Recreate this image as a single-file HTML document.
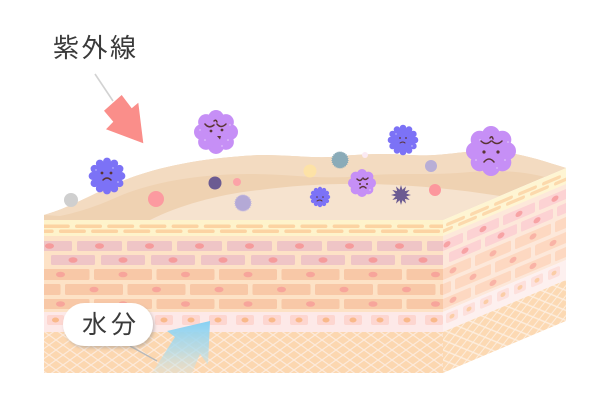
<!DOCTYPE html>
<html><head><meta charset="utf-8"><style>
html,body{margin:0;padding:0;background:#fff;width:600px;height:400px;overflow:hidden}
svg{display:block}
text{font-family:"Liberation Sans","Noto Sans CJK JP",sans-serif}
</style></head><body>
<svg width="600" height="400" viewBox="0 0 600 400" xmlns="http://www.w3.org/2000/svg">
<defs>
<pattern id="lat" width="14" height="10" patternUnits="userSpaceOnUse">
<rect width="14" height="10" fill="#fcd7b0"/>
<path d="M0,0L14,10M14,0L0,10" stroke="#fdeadb" stroke-width="1.2"/>
</pattern>
<pattern id="lat2" width="12" height="10" patternUnits="userSpaceOnUse">
<rect width="12" height="10" fill="#fcd9b3"/>
<path d="M0,0L12,10M12,0L0,10" stroke="#fdeedf" stroke-width="1.2"/>
</pattern>
<clipPath id="cf"><rect x="44" y="200" width="399" height="173"/></clipPath>
<clipPath id="cr"><rect x="0" y="220" width="123" height="153"/></clipPath>
<g id="blob">
<circle r=".72"/><circle cx=".64" cy="0" r=".36"/><circle cx=".4525" cy=".4525" r=".36"/><circle cx="0" cy=".64" r=".36"/><circle cx="-.4525" cy=".4525" r=".36"/><circle cx="-.64" cy="0" r=".36"/><circle cx="-.4525" cy="-.4525" r=".36"/><circle cx="0" cy="-.64" r=".36"/><circle cx=".4525" cy="-.4525" r=".36"/>
</g>
<g id="spk">
<circle r=".75"/><circle cx=".8" cy="0" r=".22"/><circle cx=".693" cy=".4" r=".22"/><circle cx=".4" cy=".693" r=".22"/><circle cx="0" cy=".8" r=".22"/><circle cx="-.4" cy=".693" r=".22"/><circle cx="-.693" cy=".4" r=".22"/><circle cx="-.8" cy="0" r=".22"/><circle cx="-.693" cy="-.4" r=".22"/><circle cx="-.4" cy="-.693" r=".22"/><circle cx="0" cy="-.8" r=".22"/><circle cx=".4" cy="-.693" r=".22"/><circle cx=".693" cy="-.4" r=".22"/>
</g>
<linearGradient id="bl" x1="0" y1="321" x2="0" y2="373" gradientUnits="userSpaceOnUse">
<stop offset="0" stop-color="#86d0f3"/><stop offset=".55" stop-color="#a9dbee" stop-opacity=".75"/><stop offset="1" stop-color="#d0e6e6" stop-opacity=".35"/>
</linearGradient>
<filter id="sh" x="-20%" y="-20%" width="140%" height="160%"><feDropShadow dx="1.5" dy="2" stdDeviation="1.5" flood-color="#888" flood-opacity=".45"/></filter>
</defs>

<!-- top surface -->
<path d="M44,220 L44,215 C70,208 100,190 130,178 C160,167 200,158 260,155 C290,155 310,158 330,157 C360,154 385,153 410,155 C440,157 460,151 485,151 C515,151 540,160 566,168 L443,220 Z" fill="#efd2b2"/>
<path d="M44,215 C70,208 100,190 130,178 C160,167 200,158 260,155 C290,155 310,158 330,157 C360,154 385,153 410,155 C440,157 460,151 485,151 C515,151 540,160 566,168 L545,177 C520,171 500,170 470,172 C430,176 400,172 360,176 C320,180 290,174 250,174 C200,174 150,182 115,198 C95,207 75,213 60,216 Z" fill="#f3dbc1"/>
<path d="M150,220 C180,205 220,194 260,190 C320,182 400,180 500,196 L443,220 Z" fill="#f6e3cf"/>

<!-- front face -->
<g clip-path="url(#cf)">
<rect x="44" y="220" width="399" height="17" fill="#fef3cb"/>
<rect x="44" y="236" width="399" height="76" fill="#fde2c6"/>
<g fill="#fcd3a2">
<rect x="42.8" y="224.5" width="27" height="3.5" rx="1.75"/><rect x="75" y="224.5" width="27" height="3.5" rx="1.75"/><rect x="107.2" y="224.5" width="27" height="3.5" rx="1.75"/><rect x="139.4" y="224.5" width="27" height="3.5" rx="1.75"/><rect x="171.6" y="224.5" width="27" height="3.5" rx="1.75"/><rect x="203.8" y="224.5" width="27" height="3.5" rx="1.75"/><rect x="236" y="224.5" width="27" height="3.5" rx="1.75"/><rect x="268.2" y="224.5" width="27" height="3.5" rx="1.75"/><rect x="300.4" y="224.5" width="27" height="3.5" rx="1.75"/><rect x="332.6" y="224.5" width="27" height="3.5" rx="1.75"/><rect x="364.8" y="224.5" width="27" height="3.5" rx="1.75"/><rect x="397" y="224.5" width="27" height="3.5" rx="1.75"/><rect x="429.2" y="224.5" width="27" height="3.5" rx="1.75"/>
<rect x="26.7" y="229.5" width="27" height="3.5" rx="1.75"/><rect x="58.9" y="229.5" width="27" height="3.5" rx="1.75"/><rect x="91.1" y="229.5" width="27" height="3.5" rx="1.75"/><rect x="123.3" y="229.5" width="27" height="3.5" rx="1.75"/><rect x="155.5" y="229.5" width="27" height="3.5" rx="1.75"/><rect x="187.7" y="229.5" width="27" height="3.5" rx="1.75"/><rect x="219.9" y="229.5" width="27" height="3.5" rx="1.75"/><rect x="252.1" y="229.5" width="27" height="3.5" rx="1.75"/><rect x="284.3" y="229.5" width="27" height="3.5" rx="1.75"/><rect x="316.5" y="229.5" width="27" height="3.5" rx="1.75"/><rect x="348.7" y="229.5" width="27" height="3.5" rx="1.75"/><rect x="380.9" y="229.5" width="27" height="3.5" rx="1.75"/><rect x="413.1" y="229.5" width="27" height="3.5" rx="1.75"/>
</g>
<!-- pink rows -->
<g fill="#efc5c6">
<rect x="27" y="241" width="45" height="10" rx="1.5"/><rect x="77" y="241" width="45" height="10" rx="1.5"/><rect x="127" y="241" width="45" height="10" rx="1.5"/><rect x="177" y="241" width="45" height="10" rx="1.5"/><rect x="227" y="241" width="45" height="10" rx="1.5"/><rect x="277" y="241" width="45" height="10" rx="1.5"/><rect x="327" y="241" width="45" height="10" rx="1.5"/><rect x="377" y="241" width="45" height="10" rx="1.5"/><rect x="427" y="241" width="45" height="10" rx="1.5"/>
<rect x="51" y="255" width="44" height="10" rx="1.5"/><rect x="101" y="255" width="44" height="10" rx="1.5"/><rect x="151" y="255" width="44" height="10" rx="1.5"/><rect x="201" y="255" width="44" height="10" rx="1.5"/><rect x="251" y="255" width="44" height="10" rx="1.5"/><rect x="301" y="255" width="44" height="10" rx="1.5"/><rect x="351" y="255" width="44" height="10" rx="1.5"/><rect x="401" y="255" width="44" height="10" rx="1.5"/>
</g>
<g fill="#f59b9b">
<ellipse cx="49.5" cy="246" rx="4.5" ry="2.8"/><ellipse cx="99.5" cy="246" rx="4.5" ry="2.8"/><ellipse cx="149.5" cy="246" rx="4.5" ry="2.8"/><ellipse cx="199.5" cy="246" rx="4.5" ry="2.8"/><ellipse cx="249.5" cy="246" rx="4.5" ry="2.8"/><ellipse cx="299.5" cy="246" rx="4.5" ry="2.8"/><ellipse cx="349.5" cy="246" rx="4.5" ry="2.8"/><ellipse cx="399.5" cy="246" rx="4.5" ry="2.8"/>
<ellipse cx="73" cy="260" rx="4.5" ry="2.8"/><ellipse cx="123" cy="260" rx="4.5" ry="2.8"/><ellipse cx="173" cy="260" rx="4.5" ry="2.8"/><ellipse cx="223" cy="260" rx="4.5" ry="2.8"/><ellipse cx="273" cy="260" rx="4.5" ry="2.8"/><ellipse cx="323" cy="260" rx="4.5" ry="2.8"/><ellipse cx="373" cy="260" rx="4.5" ry="2.8"/><ellipse cx="423" cy="260" rx="4.5" ry="2.8"/>
</g>
<!-- salmon rows -->
<g fill="#f8c8a7">
<rect x="31.5" y="269" width="58" height="11" rx="1.5"/><rect x="94" y="269" width="58" height="11" rx="1.5"/><rect x="156.5" y="269" width="58" height="11" rx="1.5"/><rect x="219" y="269" width="58" height="11" rx="1.5"/><rect x="281.5" y="269" width="58" height="11" rx="1.5"/><rect x="344" y="269" width="58" height="11" rx="1.5"/><rect x="406.5" y="269" width="58" height="11" rx="1.5"/>
<rect x="2.5" y="284" width="58" height="11" rx="1.5"/><rect x="65" y="284" width="58" height="11" rx="1.5"/><rect x="127.5" y="284" width="58" height="11" rx="1.5"/><rect x="190" y="284" width="58" height="11" rx="1.5"/><rect x="252.5" y="284" width="58" height="11" rx="1.5"/><rect x="315" y="284" width="58" height="11" rx="1.5"/><rect x="377.5" y="284" width="58" height="11" rx="1.5"/><rect x="440" y="284" width="58" height="11" rx="1.5"/>
<rect x="31.5" y="299" width="58" height="10" rx="1.5"/><rect x="94" y="299" width="58" height="10" rx="1.5"/><rect x="156.5" y="299" width="58" height="10" rx="1.5"/><rect x="219" y="299" width="58" height="10" rx="1.5"/><rect x="281.5" y="299" width="58" height="10" rx="1.5"/><rect x="344" y="299" width="58" height="10" rx="1.5"/><rect x="406.5" y="299" width="58" height="10" rx="1.5"/>
</g>
<g fill="#f7a59b">
<ellipse cx="60.5" cy="274.5" rx="4.5" ry="2.8"/><ellipse cx="123" cy="274.5" rx="4.5" ry="2.8"/><ellipse cx="185.5" cy="274.5" rx="4.5" ry="2.8"/><ellipse cx="248" cy="274.5" rx="4.5" ry="2.8"/><ellipse cx="310.5" cy="274.5" rx="4.5" ry="2.8"/><ellipse cx="373" cy="274.5" rx="4.5" ry="2.8"/><ellipse cx="435.5" cy="274.5" rx="4.5" ry="2.8"/>
<ellipse cx="94" cy="289.5" rx="4.5" ry="2.8"/><ellipse cx="156.5" cy="289.5" rx="4.5" ry="2.8"/><ellipse cx="219" cy="289.5" rx="4.5" ry="2.8"/><ellipse cx="281.5" cy="289.5" rx="4.5" ry="2.8"/><ellipse cx="344" cy="289.5" rx="4.5" ry="2.8"/><ellipse cx="406.5" cy="289.5" rx="4.5" ry="2.8"/>
<ellipse cx="60.5" cy="304" rx="4.5" ry="2.8"/><ellipse cx="123" cy="304" rx="4.5" ry="2.8"/><ellipse cx="185.5" cy="304" rx="4.5" ry="2.8"/><ellipse cx="248" cy="304" rx="4.5" ry="2.8"/><ellipse cx="310.5" cy="304" rx="4.5" ry="2.8"/><ellipse cx="373" cy="304" rx="4.5" ry="2.8"/><ellipse cx="435.5" cy="304" rx="4.5" ry="2.8"/>
</g>
<!-- cell band -->
<rect x="44" y="312" width="399" height="20" fill="#fde9e8"/>
<g fill="#fdd6d0">
<rect x="47" y="315" width="17" height="10" rx="2"/><rect x="74" y="315" width="18" height="10" rx="2"/><rect x="101" y="315" width="18" height="10" rx="2"/><rect x="128" y="315" width="18" height="10" rx="2"/><rect x="155" y="315" width="18" height="10" rx="2"/><rect x="182" y="315" width="18" height="10" rx="2"/><rect x="209" y="315" width="18" height="10" rx="2"/><rect x="236" y="315" width="18" height="10" rx="2"/><rect x="263" y="315" width="18" height="10" rx="2"/><rect x="290" y="315" width="18" height="10" rx="2"/><rect x="317" y="315" width="18" height="10" rx="2"/><rect x="344" y="315" width="18" height="10" rx="2"/><rect x="371" y="315" width="18" height="10" rx="2"/><rect x="398" y="315" width="18" height="10" rx="2"/><rect x="425" y="315" width="18" height="10" rx="2"/>
</g>
<g fill="#f9b98a">
<ellipse cx="55.5" cy="320" rx="3.5" ry="2.5"/><ellipse cx="83" cy="320" rx="3.5" ry="2.5"/><ellipse cx="110" cy="320" rx="3.5" ry="2.5"/><ellipse cx="137" cy="320" rx="3.5" ry="2.5"/><ellipse cx="164" cy="320" rx="3.5" ry="2.5"/><ellipse cx="191" cy="320" rx="3.5" ry="2.5"/><ellipse cx="218" cy="320" rx="3.5" ry="2.5"/><ellipse cx="245" cy="320" rx="3.5" ry="2.5"/><ellipse cx="272" cy="320" rx="3.5" ry="2.5"/><ellipse cx="299" cy="320" rx="3.5" ry="2.5"/><ellipse cx="326" cy="320" rx="3.5" ry="2.5"/><ellipse cx="353" cy="320" rx="3.5" ry="2.5"/><ellipse cx="380" cy="320" rx="3.5" ry="2.5"/><ellipse cx="407" cy="320" rx="3.5" ry="2.5"/><ellipse cx="434" cy="320" rx="3.5" ry="2.5"/>
</g>
<rect x="44" y="332" width="399" height="41" fill="url(#lat)"/>
</g>

<!-- right face -->
<g transform="translate(443,0) skewY(-22.92)">
<g clip-path="url(#cr)">
<rect x="0" y="220" width="123" height="17" fill="#fef5d3"/>
<rect x="0" y="236" width="123" height="76" fill="#fde8da"/>
<g fill="#fcd9ac">
<rect x="3" y="224.5" width="19" height="3.5" rx="1.75"/><rect x="27" y="224.5" width="19" height="3.5" rx="1.75"/><rect x="51" y="224.5" width="19" height="3.5" rx="1.75"/><rect x="75" y="224.5" width="19" height="3.5" rx="1.75"/><rect x="99" y="224.5" width="19" height="3.5" rx="1.75"/>
<rect x="-9" y="229.5" width="19" height="3.5" rx="1.75"/><rect x="15" y="229.5" width="19" height="3.5" rx="1.75"/><rect x="39" y="229.5" width="19" height="3.5" rx="1.75"/><rect x="63" y="229.5" width="19" height="3.5" rx="1.75"/><rect x="87" y="229.5" width="19" height="3.5" rx="1.75"/><rect x="111" y="229.5" width="19" height="3.5" rx="1.75"/>
</g>
<g fill="#fcd2d3">
<rect x="-12" y="241" width="32" height="10" rx="1.5"/><rect x="24" y="241" width="32" height="10" rx="1.5"/><rect x="60" y="241" width="32" height="10" rx="1.5"/><rect x="96" y="241" width="32" height="10" rx="1.5"/>
<rect x="6" y="255" width="32" height="10" rx="1.5"/><rect x="42" y="255" width="32" height="10" rx="1.5"/><rect x="78" y="255" width="32" height="10" rx="1.5"/><rect x="114" y="255" width="32" height="10" rx="1.5"/>
</g>
<g fill="#f7a3a5">
<ellipse cx="4" cy="246" rx="3.5" ry="2.8"/><ellipse cx="40" cy="246" rx="3.5" ry="2.8"/><ellipse cx="76" cy="246" rx="3.5" ry="2.8"/><ellipse cx="112" cy="246" rx="3.5" ry="2.8"/>
<ellipse cx="22" cy="260" rx="3.5" ry="2.8"/><ellipse cx="58" cy="260" rx="3.5" ry="2.8"/><ellipse cx="94" cy="260" rx="3.5" ry="2.8"/>
</g>
<g fill="#fdd8c1">
<rect x="-8" y="269" width="36" height="11" rx="1.5"/><rect x="32" y="269" width="36" height="11" rx="1.5"/><rect x="72" y="269" width="36" height="11" rx="1.5"/><rect x="112" y="269" width="36" height="11" rx="1.5"/>
<rect x="-28" y="284" width="36" height="11" rx="1.5"/><rect x="12" y="284" width="36" height="11" rx="1.5"/><rect x="52" y="284" width="36" height="11" rx="1.5"/><rect x="92" y="284" width="36" height="11" rx="1.5"/>
<rect x="-8" y="299" width="36" height="10" rx="1.5"/><rect x="32" y="299" width="36" height="10" rx="1.5"/><rect x="72" y="299" width="36" height="10" rx="1.5"/><rect x="112" y="299" width="36" height="10" rx="1.5"/>
</g>
<g fill="#f9b3a6">
<ellipse cx="10" cy="274.5" rx="3.5" ry="2.8"/><ellipse cx="50" cy="274.5" rx="3.5" ry="2.8"/><ellipse cx="90" cy="274.5" rx="3.5" ry="2.8"/>
<ellipse cx="30" cy="289.5" rx="3.5" ry="2.8"/><ellipse cx="70" cy="289.5" rx="3.5" ry="2.8"/><ellipse cx="110" cy="289.5" rx="3.5" ry="2.8"/>
<ellipse cx="10" cy="304" rx="3.5" ry="2.8"/><ellipse cx="50" cy="304" rx="3.5" ry="2.8"/><ellipse cx="90" cy="304" rx="3.5" ry="2.8"/>
</g>
<rect x="0" y="312" width="123" height="20" fill="#fdf0ef"/>
<g fill="#fde0dc">
<rect x="3" y="315" width="12" height="10" rx="2"/><rect x="20" y="315" width="12" height="10" rx="2"/><rect x="37" y="315" width="12" height="10" rx="2"/><rect x="54" y="315" width="12" height="10" rx="2"/><rect x="71" y="315" width="12" height="10" rx="2"/><rect x="88" y="315" width="12" height="10" rx="2"/><rect x="105" y="315" width="12" height="10" rx="2"/>
</g>
<g fill="#fbcda6">
<ellipse cx="9" cy="320" rx="2.5" ry="2.2"/><ellipse cx="26" cy="320" rx="2.5" ry="2.2"/><ellipse cx="43" cy="320" rx="2.5" ry="2.2"/><ellipse cx="60" cy="320" rx="2.5" ry="2.2"/><ellipse cx="77" cy="320" rx="2.5" ry="2.2"/><ellipse cx="94" cy="320" rx="2.5" ry="2.2"/><ellipse cx="111" cy="320" rx="2.5" ry="2.2"/>
</g>
<rect x="0" y="332" width="123" height="41" fill="url(#lat2)"/>
</g>
</g>

<!-- particles -->
<circle cx="71" cy="200" r="7" fill="#cfcfcf"/>
<circle cx="156" cy="199" r="8" fill="#fc9aa0"/>
<circle cx="215" cy="183" r="6.5" fill="#6c5b92"/>
<circle cx="237" cy="182" r="4" fill="#fca3a8"/>
<circle cx="243" cy="203" r="8" fill="#b4a9d6" stroke="#c2b8df" stroke-width="1.2" stroke-dasharray="1 1"/>
<circle cx="340" cy="160" r="8" fill="#8aabb8" stroke="#8aabb8" stroke-width="1.2" stroke-dasharray="1 1"/>
<circle cx="365" cy="155" r="3" fill="#fbeaf3"/>
<circle cx="310" cy="171" r="6.5" fill="#fde2a6"/>
<circle cx="431" cy="166" r="6" fill="#b8aed6"/>
<circle cx="435" cy="190" r="6" fill="#fc979d"/>
<polygon transform="translate(401,195)" fill="#6c5b92" points="10,0 5.31,1.42 8.66,5 3.89,3.89 5,8.66 1.42,5.31 0,10 -1.42,5.31 -5,8.66 -3.89,3.89 -8.66,5 -5.31,1.42 -10,0 -5.31,-1.42 -8.66,-5 -3.89,-3.89 -5,-8.66 -1.42,-5.31 0,-10 1.42,-5.31 5,-8.66 3.89,-3.89 8.66,-5 5.31,-1.42"/>

<!-- germs -->
<use href="#blob" fill="#c68ff6" transform="translate(216,132) scale(22)"/>
<use href="#blob" fill="#c68ff6" transform="translate(491,151) scale(25)"/>
<use href="#blob" fill="#c68ff6" transform="translate(362,183) scale(14)"/>
<use href="#spk" fill="#7c72f6" transform="translate(107,176) scale(18)"/>
<use href="#spk" fill="#7c72f6" transform="translate(403,140) scale(15)"/>
<use href="#spk" fill="#7c72f6" transform="translate(320,197) scale(10)"/>
<g fill="#fff" opacity=".6">
<circle cx="205" cy="140" r=".8"/><circle cx="228" cy="140" r=".8"/><circle cx="230" cy="125" r=".7"/><circle cx="200" cy="130" r=".7"/><circle cx="222" cy="146" r=".7"/>
<circle cx="505" cy="160" r=".8"/><circle cx="476" cy="160" r=".8"/><circle cx="508" cy="142" r=".8"/><circle cx="497" cy="168" r=".7"/><circle cx="480" cy="140" r=".7"/>
<circle cx="118" cy="182" r=".8"/><circle cx="96" cy="170" r=".7"/><circle cx="113" cy="168" r=".7"/>
<circle cx="412" cy="146" r=".7"/><circle cx="396" cy="134" r=".7"/><circle cx="370" cy="190" r=".7"/>
</g>
<g stroke="#5a3434" stroke-width="1.5" fill="none" stroke-linecap="round">
<path d="M205,124 q4,5 9,1"/><path d="M217,124 q4,5 9,0"/><path d="M214,121 q2,-2 3,1"/>
<path d="M481,141 q5,5 10,0"/><path d="M492,141 q5,5 10,0"/><path d="M490,138 q2,-3 3,1"/>
<path d="M484,162 q5,-6 10,0"/>
<path d="M103,180 q4,-4 8,0"/>
<path d="M357,179 q3,3 5,0 M363,178 q2,3 5,0"/><path d="M360,188 q3,-3 6,0"/>
<path d="M400,143 q3,-2 5,0" stroke-width="1"/><path d="M317,201 q3,-2 5,0" stroke-width="1"/>
</g>
<g fill="#5a3434">
<circle cx="211" cy="131" r="1.4"/><circle cx="222" cy="130" r="1.4"/><path d="M217,136 l4,0 l-1,3.5 z"/>
<circle cx="484" cy="152" r="1.6"/><circle cx="498" cy="152" r="1.6"/>
<circle cx="102" cy="173" r="1.4"/><circle cx="111" cy="173" r="1.4"/>
<circle cx="360" cy="184" r="1"/><circle cx="367" cy="184" r="1"/>
<circle cx="400" cy="138" r=".9"/><circle cx="406" cy="138" r=".9"/>
<circle cx="317" cy="197" r=".8"/><circle cx="323" cy="197" r=".8"/>
</g>

<!-- UV label and arrow -->
<path d="M95,74 L113,101" stroke="#d2d2d2" stroke-width="1.6"/>
<polygon points="121.7,95 104,110.7 113.3,121.7 106,129.3 143.3,143.3 138.3,102.7 131.7,108.3" fill="#fa8e8a"/>
<text x="53" y="57" font-size="26" letter-spacing="2.5" fill="#3a3a3a">紫外線</text>

<!-- water arrow -->
<polygon points="210,321 208,365 200,354 192,373 152,373 175,337 167,331" fill="url(#bl)"/>
<path d="M130,346 L157,361" stroke="#b9b9b9" stroke-width="1.4"/>
<rect x="63" y="303" width="90" height="43" rx="21.5" fill="#fff" filter="url(#sh)"/>
<text x="82" y="333" font-size="25" letter-spacing="4" fill="#3a3a3a">水分</text>
</svg>
</body></html>
